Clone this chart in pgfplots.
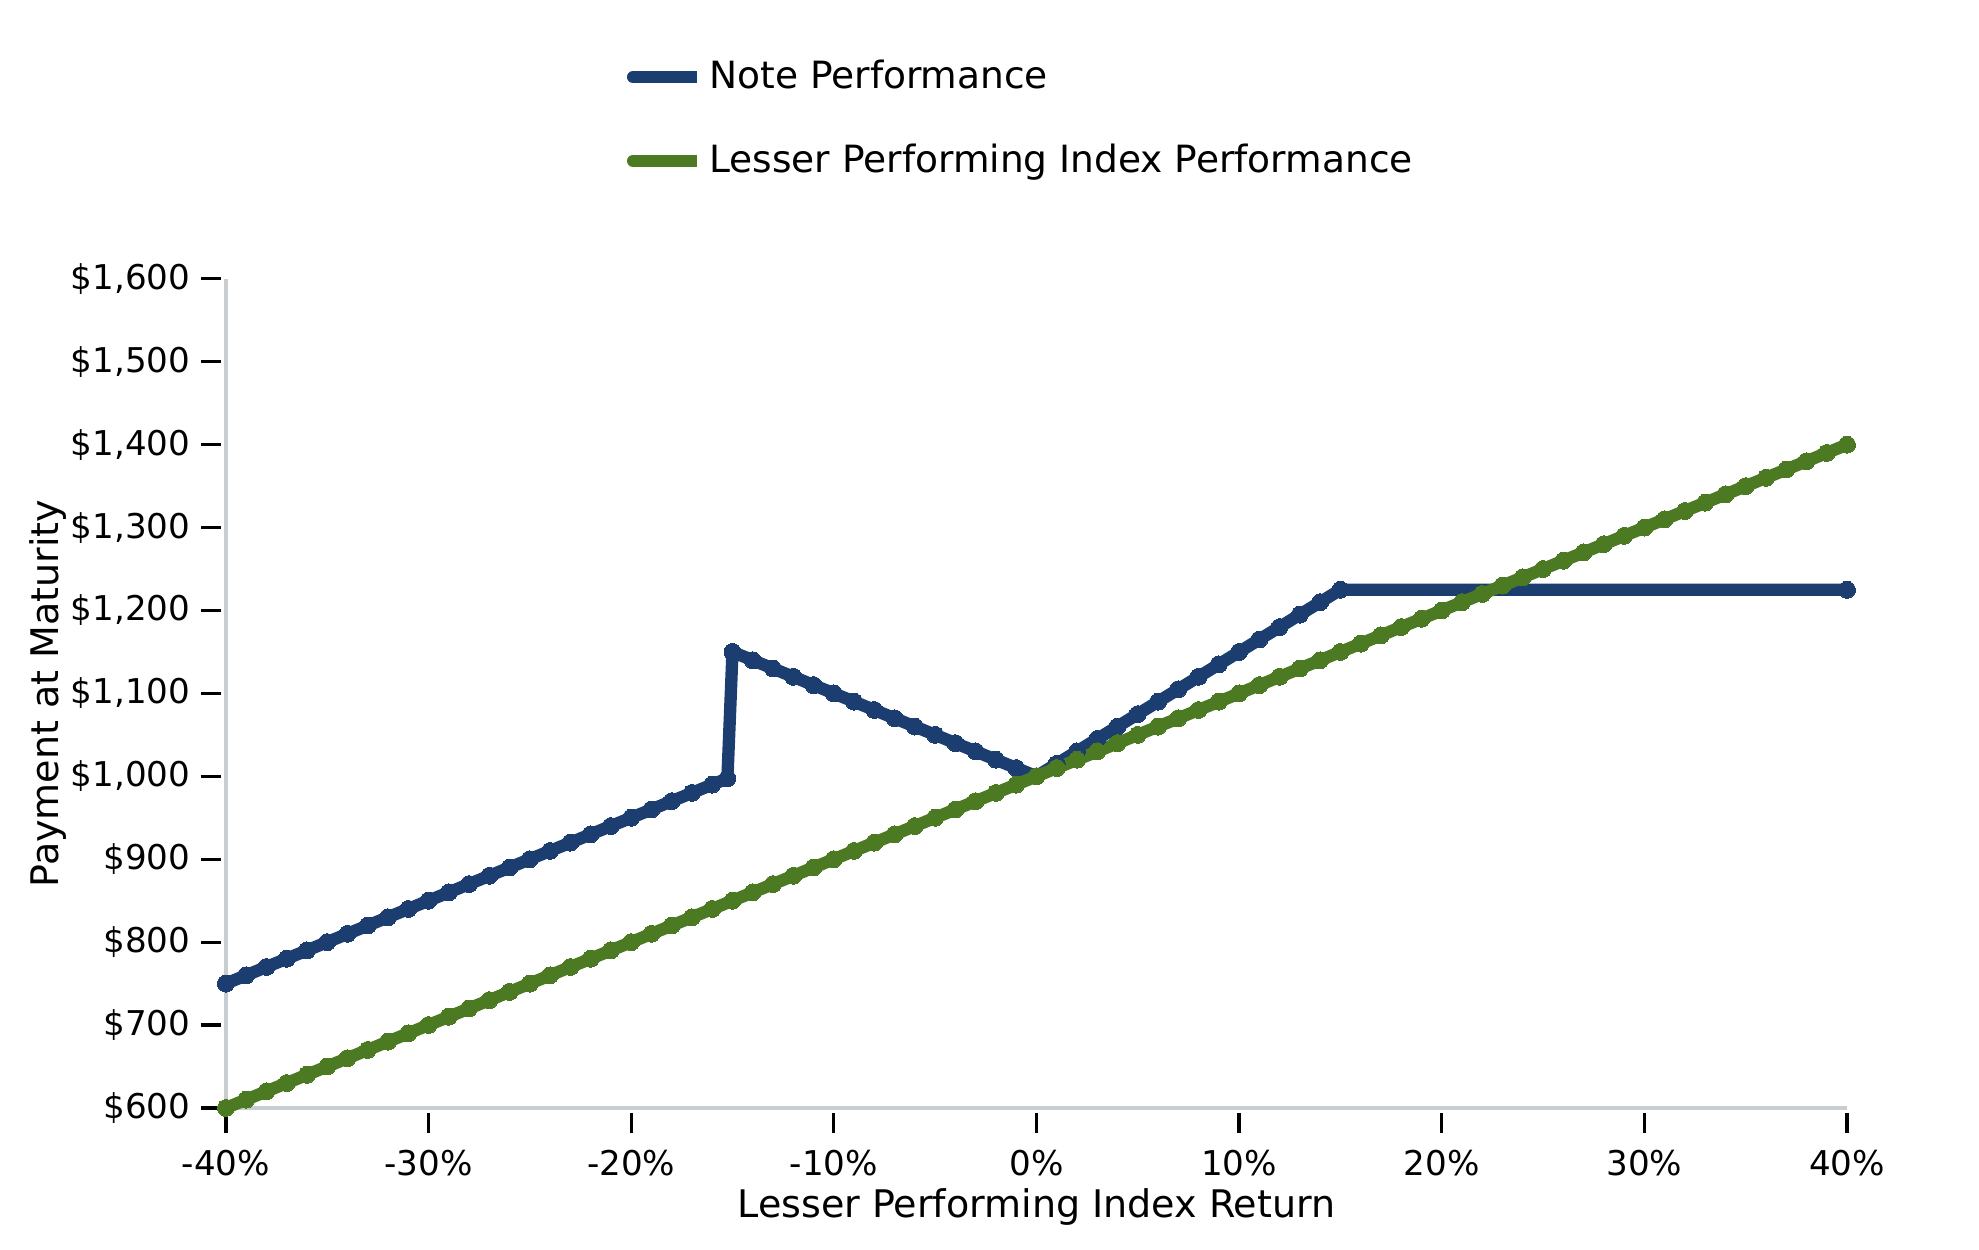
\documentclass[border=0pt]{standalone}
\usepackage{pgfplots}
\pgfplotsset{compat=1.18}
\usepackage{fontspec}
\setmainfont{DejaVu Sans}
\definecolor{noteblue}{HTML}{1B3D6F}
\definecolor{idxgreen}{HTML}{4B7A23}
\definecolor{spinegray}{HTML}{C8CDD2}
\begin{document}
\begin{tikzpicture}
\begin{axis}[
  name=ax,
  scale only axis,
  width=498.8pt, height=255.1pt,
  xmin=-40, xmax=40, ymin=600, ymax=1600,
  clip=false,
  axis x line*=bottom, axis y line*=left,
  axis line style={spinegray, line width=1.2pt, -},
  tick align=outside,
  major tick length=6.2pt,
  xtick={-40,-30,-20,-10,0,10,20,30,40},
  xticklabels={-40\%,-30\%,-20\%,-10\%,0\%,10\%,20\%,30\%,40\%},
  ytick={600,700,800,900,1000,1100,1200,1300,1400,1500,1600},
  yticklabels={\$600,\$700,\$800,\$900,{\$1,000},{\$1,100},{\$1,200},{\$1,300},{\$1,400},{\$1,500},{\$1,600}},
  xtick style={black, line width=1pt, yshift=-1.5pt},
  ytick style={black, line width=1pt, xshift=-1.5pt},
  xticklabel style={font=\fontsize{10.5}{12}\selectfont, yshift=-3.2pt},
  yticklabel style={font=\fontsize{10.5}{12}\selectfont, xshift=-1.2pt},
  /pgf/number format/assume math mode=true,
  xlabel={Lesser Performing Index Return},
  ylabel={Payment at Maturity},
  every axis x label/.style={at={(axis description cs:0.5,-0.1317)}, anchor=base, font=\fontsize{11.7}{14}\selectfont},
  every axis y label/.style={at={(axis description cs:-0.1097,0.5)}, rotate=90, anchor=center, font=\fontsize{11.7}{14}\selectfont},
  legend style={at={(axis description cs:0.241,1.28)}, anchor=north west, draw=none, fill=none, row sep=11.5pt, font=\fontsize{11.55}{14}\selectfont},
  legend cell align=left,
  legend image code/.code={\draw[#1, line width=3.7pt, line cap=round] (0cm,0cm) -- (0.51cm,0cm); \path (0.51cm,0cm) -- ++(5.1pt,0pt);},
]
\addplot[noteblue, line width=3.8pt, line join=round, mark=*, mark size=2.6pt, mark options={draw=noteblue, fill=noteblue, line width=0pt}] coordinates {
(-40,750) (-39,760) (-38,770) (-37,780) (-36,790) (-35,800) (-34,810) (-33,820) (-32,830) (-31,840)
(-30,850) (-29,860) (-28,870) (-27,880) (-26,890) (-25,900) (-24,910) (-23,920) (-22,930) (-21,940)
(-20,950) (-19,960) (-18,970) (-17,980) (-16,990) (-15.25,997.5) (-15,1150) (-14,1140) (-13,1130) (-12,1120)
(-11,1110) (-10,1100) (-9,1090) (-8,1080) (-7,1070) (-6,1060) (-5,1050) (-4,1040) (-3,1030) (-2,1020)
(-1,1010) (0,1000) (1,1015) (2,1030) (3,1045) (4,1060) (5,1075) (6,1090) (7,1105) (8,1120)
(9,1135) (10,1150) (11,1165) (12,1180) (13,1195) (14,1210) (15,1225) (40,1225)
};
\addlegendentry{Note Performance}
\addplot[idxgreen, line width=3.8pt, line join=round, mark=*, mark size=2.6pt, mark options={draw=idxgreen, fill=idxgreen, line width=0pt}] table {
x y
-40 600
-39 610
-38 620
-37 630
-36 640
-35 650
-34 660
-33 670
-32 680
-31 690
-30 700
-29 710
-28 720
-27 730
-26 740
-25 750
-24 760
-23 770
-22 780
-21 790
-20 800
-19 810
-18 820
-17 830
-16 840
-15 850
-14 860
-13 870
-12 880
-11 890
-10 900
-9 910
-8 920
-7 930
-6 940
-5 950
-4 960
-3 970
-2 980
-1 990
0 1000
1 1010
2 1020
3 1030
4 1040
5 1050
6 1060
7 1070
8 1080
9 1090
10 1100
11 1110
12 1120
13 1130
14 1140
15 1150
16 1160
17 1170
18 1180
19 1190
20 1200
21 1210
22 1220
23 1230
24 1240
25 1250
26 1260
27 1270
28 1280
29 1290
30 1300
31 1310
32 1320
33 1330
34 1340
35 1350
36 1360
37 1370
38 1380
39 1390
40 1400
};
\addlegendentry{Lesser Performing Index Performance}
\end{axis}
\pgfresetboundingbox
\path ([shift={(-69.5pt,-43.7pt)}]ax.south west) rectangle ++(608.9pt,384.6pt);
\end{tikzpicture}
\end{document}
